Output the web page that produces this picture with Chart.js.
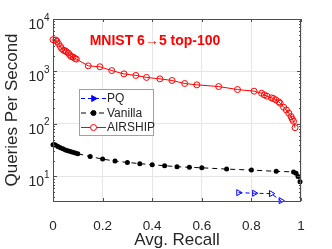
<!DOCTYPE html>
<html>
<head>
<meta charset="utf-8">
<script src="https://cdn.jsdelivr.net/npm/chart.js@4"></script>
<style>
  html, body { margin: 0; padding: 0; background: #fff; }
  #wrap { width: 332px; height: 249px; }
</style>
</head>
<body>
<div id="wrap"><canvas id="qpsChart" width="332" height="249"></canvas></div>
<script>
// values
const airshipRecall = [0, 0.011, 0.016, 0.022, 0.03, 0.035, 0.043, 0.049, 0.054, 0.062, 0.067, 0.073, 0.081, 0.089, 0.094,
  0.142, 0.189, 0.237, 0.286, 0.334, 0.377, 0.431, 0.48, 0.531, 0.58, 0.668, 0.744, 0.811, 0.841, 0.852, 0.863,
  0.881, 0.889, 0.898, 0.911, 0.916, 0.93, 0.941, 0.951, 0.96, 0.965, 0.97, 0.976];
const airshipQps = [4030, 3970, 3740, 3380, 3000, 2710, 2520, 2480, 2380, 2240, 2080, 1930, 1880, 1770, 1720,
  1280, 1230, 1040, 900, 840, 770, 724, 673, 590, 556, 516, 453, 421, 385, 358, 338,
  314, 305, 288, 263, 248, 208, 185, 160, 138, 123, 112, 85];

const vanillaRecall = [0, 0.005, 0.01, 0.02, 0.03, 0.04, 0.05, 0.06, 0.07, 0.08, 0.09, 0.1,
  0.15, 0.2, 0.25, 0.3, 0.35, 0.4, 0.45, 0.5, 0.55, 0.6, 0.7, 0.8, 0.9, 0.97, 0.98, 0.988, 0.996];
const vanillaQps = [40, 40, 39.5, 37, 35, 33.5, 32, 31, 30, 29, 28, 27,
  23.9, 21.4, 19.6, 18.5, 17.5, 16.7, 16, 15.3, 14.9, 14.6, 13.8, 13.2, 12.5, 12.2, 11.5, 10, 7.9];

const pqRecall = [0.748, 0.812, 0.88, 0.919];
const pqQps = [4.9, 4.78, 4.7, 3.45];

const xTicks = [0, 0.2, 0.4, 0.6, 0.8, 1];
const yTicks = [10, 100, 1000, 10000];
const yExp = ["1", "2", "3", "4"];

const titleText = "MNIST 6\u21925 top-100";
const legendLabels = ["PQ", "Vanilla", "AIRSHIP"];
const legendFill = ["#0000ff", "#000000", "#ffffff"];

function toPoints(xs, ys) {
  return xs.map((x, i) => ({ x: x, y: ys[i] }));
}

const FONT = "'Liberation Sans', Arial, sans-serif";

// title, legend, inner ticks, box and y labels
const decorations = {
  id: "decorations",
  afterDraw(chart) {
    const ctx = chart.ctx;
    const area = chart.chartArea;
    const xs = chart.scales.x;
    const ys = chart.scales.y;
    ctx.save();

    // box
    ctx.strokeStyle = "#4d4d4d";
    ctx.lineWidth = 1;
    ctx.strokeRect(area.left + 0.5, area.top + 0.5, area.right - area.left - 1, area.bottom - area.top);

    // inner ticks
    ctx.beginPath();
    xTicks.forEach((v) => {
      const px = Math.round(xs.getPixelForValue(v)) + 0.5;
      ctx.moveTo(px, area.bottom);
      ctx.lineTo(px, area.bottom - 3);
      ctx.moveTo(px, area.top);
      ctx.lineTo(px, area.top + 3);
    });
    for (let d = 1; d <= 1000; d *= 10) {
      for (let k = 1; k <= 10; k++) {
        const v = k * d;
        if (v < ys.min || v > ys.max) continue;
        const len = (k === 1 || k === 10) ? 4 : 2;
        const py = Math.round(ys.getPixelForValue(v)) + 0.5;
        ctx.moveTo(area.left, py);
        ctx.lineTo(area.left + len, py);
        ctx.moveTo(area.right, py);
        ctx.lineTo(area.right - len, py);
      }
    }
    ctx.stroke();

    // y tick labels with exponents
    ctx.fillStyle = "#262626";
    yTicks.forEach((v, i) => {
      const py = ys.getPixelForValue(v);
      ctx.font = "14px " + FONT;
      ctx.textAlign = "right";
      ctx.textBaseline = "alphabetic";
      ctx.fillText("10", 44, py + 10);
      ctx.font = "10px " + FONT;
      ctx.textAlign = "left";
      ctx.fillText(yExp[i], 44, py + 1.5);
    });

    // title inside the plot
    ctx.fillStyle = "#ff0000";
    ctx.font = "bold 14px " + FONT;
    ctx.textAlign = "center";
    ctx.textBaseline = "alphabetic";
    ctx.fillText(titleText, 155, 45);

    // legend
    const lx = 79, ly = 89, lw = 74, lh = 46;
    ctx.fillStyle = "#fff";
    ctx.fillRect(lx, ly, lw, lh);
    ctx.strokeStyle = "#a0a0a0";
    ctx.strokeRect(lx + 0.5, ly + 0.5, lw, lh);
    const rowY = [98.5, 113, 127.5];
    chart.data.datasets.forEach((ds, i) => {
      const y = rowY[i];
      ctx.strokeStyle = ds.borderColor;
      ctx.lineWidth = 1;
      ctx.setLineDash(ds.borderDash || []);
      ctx.beginPath();
      ctx.moveTo(lx + 2, y);
      ctx.lineTo(lx + 27, y);
      ctx.stroke();
      ctx.setLineDash([]);
      ctx.fillStyle = legendFill[i];
      Chart.helpers.drawPoint(ctx, {
        pointStyle: ds.pointStyle,
        rotation: ds.pointRotation || 0,
        radius: ds.pointRadius,
        borderWidth: 1,
      }, lx + 14.5, y);
      ctx.fillStyle = "#262626";
      ctx.font = "12px " + FONT;
      ctx.textAlign = "left";
      ctx.textBaseline = "middle";
      ctx.fillText(legendLabels[i], lx + 28, y + 0.5);
    });
    ctx.restore();
  },
};

const ctx = document.getElementById("qpsChart").getContext("2d");

new Chart(ctx, {
  type: "line",
  data: {
    datasets: [
      {
        label: legendLabels[0],
        data: toPoints(pqRecall, pqQps),
        borderColor: "#0000ff",
        backgroundColor: "rgba(0,0,0,0)",
        borderWidth: 1,
        borderDash: [4, 3],
        pointStyle: "triangle",
        pointRotation: 90,
        pointRadius: 3.5,
        pointBorderWidth: 1,
      },
      {
        label: legendLabels[1],
        data: toPoints(vanillaRecall, vanillaQps),
        borderColor: "#000000",
        backgroundColor: "#000000",
        borderWidth: 1,
        borderDash: [5, 4],
        pointStyle: "circle",
        pointRadius: 2.5,
        pointBorderWidth: 0,
      },
      {
        label: legendLabels[2],
        data: toPoints(airshipRecall, airshipQps),
        borderColor: "#ff0000",
        backgroundColor: "rgba(0,0,0,0)",
        borderWidth: 1,
        pointStyle: "circle",
        pointRadius: 3,
        pointBorderWidth: 1,
      },
    ],
  },
  options: {
    responsive: false,
    animation: false,
    clip: false,
    layout: { padding: { left: 0, top: 19, right: 31, bottom: 0 } },
    plugins: {
      legend: { display: false },
      tooltip: { enabled: false },
    },
    scales: {
      x: {
        type: "linear",
        min: 0,
        max: 1,
        afterBuildTicks: (scale) => {
          scale.ticks = xTicks.map((v) => ({ value: v }));
        },
        afterFit: (scale) => {
          scale.height = 48;
        },
        ticks: {
          color: "#262626",
          font: { family: FONT, size: 13.5 },
          padding: 17,
          maxRotation: 0,
          callback: (v) => String(v),
        },
        grid: { color: "#e6e6e6", drawTicks: false },
        border: { display: false },
        title: {
          display: true,
          text: "Avg. Recall",
          color: "#262626",
          font: { family: FONT, size: 17 },
          padding: { top: 0, bottom: -2 },
        },
      },
      y: {
        type: "logarithmic",
        min: 3.4,
        max: 10000,
        afterBuildTicks: (scale) => {
          scale.ticks = yTicks.map((v) => ({ value: v }));
        },
        afterFit: (scale) => {
          scale.width = 53;
        },
        ticks: { display: false },
        grid: { color: "#e6e6e6", drawTicks: false },
        border: { display: false },
        title: {
          display: true,
          text: "Queries Per Second",
          color: "#262626",
          font: { family: FONT, size: 17 },
          padding: { top: 2, bottom: 0 },
        },
      },
    },
  },
  plugins: [decorations],
});
</script>
</body>
</html>
